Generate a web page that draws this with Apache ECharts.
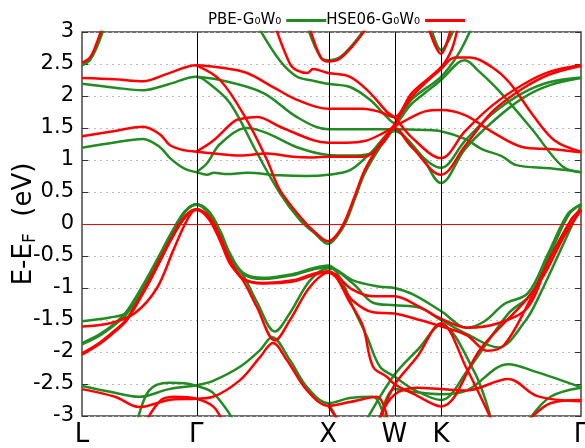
<!DOCTYPE html>
<html>
<head>
<meta charset="utf-8">
<script src="https://cdn.jsdelivr.net/npm/echarts@6/dist/echarts.min.js"></script>
<style>
html, body { margin: 0; padding: 0; background: #fff; }
#chart { width: 585px; height: 448px; }
</style>
</head>
<body>
<div id="chart"></div>
<script>
// high symmetry points along the k-path (2pi/a units)
const kPoints = [0, 0.866, 1.866, 2.366, 2.720, 3.781];
const kLabels = ['L', 'Γ', 'X', 'W', 'K', 'Γ'];

// PBE-G0W0 bands, [k, E-EF]
const pbeV1 = [[0,-1.86],[0.136,-1.72],[0.25,-1.55],[0.341,-1.36],[0.477,-0.9],[0.591,-0.47],[0.682,-0.12],[0.78,0.2],[0.866,0.31],[0.96,0.18],[1.05,-0.15],[1.121,-0.5],[1.22,-0.78],[1.371,-0.86],[1.599,-0.8],[1.75,-0.71],[1.866,-0.67],[2.053,-0.88],[2.258,-0.98],[2.366,-1.0],[2.508,-1.1],[2.72,-1.36],[2.917,-1.62],[3.05,-1.52],[3.2,-1.25],[3.379,-1.08],[3.53,-0.47],[3.682,0.16],[3.781,0.3]];
const pbeV2 = [[0,-1.88],[0.136,-1.74],[0.25,-1.57],[0.341,-1.4],[0.477,-0.95],[0.591,-0.5],[0.682,-0.14],[0.78,0.19],[0.866,0.3],[0.96,0.16],[1.05,-0.2],[1.121,-0.55],[1.22,-0.8],[1.326,-1.22],[1.462,-1.68],[1.576,-1.39],[1.728,-0.88],[1.866,-0.69],[2.053,-0.93],[2.205,-1.23],[2.366,-1.27],[2.561,-1.31],[2.72,-1.5],[2.917,-1.72],[3.152,-1.93],[3.357,-1.52],[3.47,-1.1],[3.65,-0.3],[3.781,0.29]];
const pbeV3 = [[0,-1.52],[0.212,-1.46],[0.326,-1.4],[0.439,-1.15],[0.591,-0.58],[0.743,0.08],[0.866,0.31],[0.96,0.2],[1.05,-0.12],[1.121,-0.46],[1.22,-0.76],[1.371,-0.84],[1.599,-0.78],[1.75,-0.69],[1.866,-0.65],[1.97,-0.9],[2.053,-1.3],[2.159,-1.76],[2.258,-2.23],[2.366,-2.38],[2.508,-2.58],[2.72,-2.75],[2.917,-2.3],[3.23,-1.4],[3.4,-1.1],[3.55,-0.45],[3.69,0.15],[3.781,0.31]];
const pbeV4 = [[0,-2.53],[0.212,-2.62],[0.432,-2.7],[0.66,-2.58],[0.866,-2.52],[0.993,-2.45],[1.197,-2.23],[1.349,-1.97],[1.44,-1.77],[1.576,-2.13],[1.705,-2.55],[1.866,-2.8],[2.031,-2.72],[2.205,-2.7],[2.3,-3.1]];
const pbeV5 = [[0.417,-3.1],[0.509,-2.6],[0.66,-2.48],[0.78,-2.49],[0.866,-2.53],[0.993,-2.64],[1.159,-3.1]];
const pbeV6 = [[2.159,-3.05],[2.366,-2.36],[2.55,-1.95],[2.72,-1.58],[2.97,-2.3],[3.1,-3.05]];
const pbeV7 = [[2.258,-3.05],[2.366,-2.58],[2.5,-2.62],[2.72,-2.66],[2.917,-2.6],[3.23,-2.19],[3.44,-2.31],[3.781,-2.55]];
const pbeV8 = [[3.39,-3.05],[3.55,-2.7],[3.781,-2.56]];
const pbeV9 = [[1.866,-2.8],[1.95,-3.1]];
const pbeC1 = [[0,1.19],[0.212,1.26],[0.462,1.33],[0.591,1.2],[0.667,1.03],[0.78,0.86],[0.866,0.81],[0.947,0.77],[1.0,0.8],[1.1,0.78],[1.25,0.8],[1.5,0.76],[1.7,0.75],[1.866,0.77],[2.031,0.84],[2.182,1.1],[2.366,1.45],[2.56,1.1],[2.72,0.64],[2.902,1.17],[3.107,1.59],[3.342,1.97],[3.546,2.17],[3.781,2.28]];
const pbeC2 = [[0,2.19],[0.25,2.13],[0.462,2.09],[0.65,2.18],[0.866,2.3],[0.96,2.2],[1.121,1.89],[1.326,1.11],[1.5,0.48],[1.652,0.06],[1.765,-0.15],[1.866,-0.31],[1.93,-0.2],[1.993,0.0],[2.069,0.4],[2.144,0.8],[2.258,1.2],[2.366,1.5],[2.485,1.85],[2.6,2.05],[2.72,2.25],[2.85,2.52],[2.902,2.56],[3.0,2.4],[3.16,2.08],[3.41,1.48],[3.64,0.9],[3.781,0.81]];
const pbeC3 = [[0.866,0.81],[0.947,0.95],[1.046,1.25],[1.25,1.5],[1.402,1.42],[1.629,1.2],[1.866,1.08],[2.031,1.07],[2.182,1.1],[2.311,1.35],[2.366,1.5],[2.5,1.2],[2.72,0.88],[2.902,1.3],[3.107,1.72],[3.342,2.05],[3.546,2.22],[3.781,2.29]];
const pbeC4 = [[0.866,2.3],[1.046,2.25],[1.371,2.05],[1.629,1.67],[1.866,1.48],[2.1,1.48],[2.366,1.48],[2.6,1.47],[2.72,1.45],[2.902,1.33],[3.03,1.17],[3.18,1.06],[3.29,0.92],[3.546,0.87],[3.781,0.81]];
const pbeC5 = [[1.33,3.1],[1.5,2.55],[1.63,2.3],[1.75,2.24],[1.866,2.19],[2.031,2.14],[2.182,1.94],[2.311,1.67],[2.366,1.58],[2.5,1.95],[2.72,2.3],[2.85,2.65],[2.96,3.1]];
const pbeC6 = [[1.705,3.1],[1.803,2.62],[1.866,2.56],[1.95,2.6],[2.05,2.8],[2.16,3.1]];
const pbeC7 = [[2.64,3.1],[2.72,2.72],[2.83,3.1]];
const pbeC8 = [[0,2.48],[0.06,2.56],[0.114,2.77],[0.16,3.02],[0.18,3.15]];

// HSE06-G0W0 bands
const hseV1 = [[0,-2.02],[0.136,-1.85],[0.25,-1.66],[0.341,-1.48],[0.477,-1.0],[0.591,-0.55],[0.682,-0.2],[0.78,0.12],[0.866,0.23],[0.96,0.1],[1.05,-0.25],[1.121,-0.58],[1.22,-0.86],[1.371,-0.93],[1.599,-0.9],[1.75,-0.8],[1.866,-0.75],[2.053,-1.03],[2.205,-1.13],[2.366,-1.13],[2.561,-1.3],[2.72,-1.48],[2.917,-1.62],[3.152,-1.55],[3.379,-1.3],[3.531,-0.6],[3.7,0.05],[3.781,0.23]];
const hseV2 = [[0,-2.04],[0.136,-1.87],[0.25,-1.68],[0.341,-1.5],[0.477,-1.03],[0.591,-0.58],[0.682,-0.22],[0.78,0.1],[0.866,0.22],[0.96,0.08],[1.05,-0.28],[1.121,-0.62],[1.22,-0.88],[1.326,-1.3],[1.462,-1.82],[1.576,-1.5],[1.728,-0.98],[1.866,-0.76],[2.053,-1.2],[2.205,-1.38],[2.366,-1.4],[2.561,-1.5],[2.72,-1.6],[2.917,-1.74],[3.069,-1.98],[3.198,-1.89],[3.379,-1.25],[3.58,-0.4],[3.781,0.22]];
const hseV3 = [[0,-1.6],[0.212,-1.55],[0.402,-1.39],[0.568,-1.0],[0.69,-0.42],[0.796,0.06],[0.866,0.23],[0.96,0.12],[1.05,-0.22],[1.121,-0.56],[1.22,-0.85],[1.371,-0.92],[1.599,-0.88],[1.75,-0.78],[1.866,-0.74],[2.031,-1.23],[2.129,-1.6],[2.205,-2.23],[2.311,-2.39],[2.366,-2.5],[2.508,-2.65],[2.72,-2.85],[3.023,-1.94],[3.364,-1.19],[3.5,-0.8],[3.65,-0.2],[3.781,0.22]];
const hseV4 = [[0,-2.58],[0.25,-2.7],[0.433,-2.86],[0.66,-2.75],[0.866,-2.73],[0.993,-2.7],[1.197,-2.44],[1.349,-2.08],[1.447,-1.86],[1.553,-2.13],[1.705,-2.6],[1.866,-2.84],[2.031,-2.78],[2.235,-2.7],[2.32,-3.1]];
const hseV5 = [[0.48,-3.1],[0.6,-2.75],[0.705,-2.7],[0.866,-2.73],[0.993,-2.85],[1.07,-3.1]];
const hseV6 = [[2.258,-3.05],[2.366,-2.52],[2.538,-2.08],[2.72,-1.55],[2.917,-2.27],[3.1,-3.05]];
const hseV7 = [[2.25,-3.05],[2.366,-2.67],[2.538,-2.56],[2.72,-2.58],[2.917,-2.6],[3.23,-2.42],[3.45,-2.69],[3.781,-2.77]];
const hseV8 = [[3.37,-3.1],[3.55,-2.8],[3.781,-2.75]];
const hseV9 = [[1.866,-2.84],[1.95,-3.1]];
const hseC1 = [[0,1.37],[0.212,1.44],[0.462,1.52],[0.591,1.4],[0.667,1.23],[0.78,1.15],[0.866,1.13],[1.0,1.1],[1.2,1.07],[1.4,1.1],[1.6,1.05],[1.75,1.04],[1.866,1.05],[2.129,1.05],[2.281,1.27],[2.366,1.5],[2.5,1.2],[2.72,0.77],[2.902,1.22],[3.107,1.75],[3.342,2.12],[3.546,2.34],[3.781,2.47]];
const hseC2 = [[0.866,1.13],[0.993,1.3],[1.121,1.55],[1.174,1.63],[1.326,1.67],[1.5,1.52],[1.75,1.31],[1.866,1.27],[2.0,1.27],[2.15,1.3],[2.28,1.42],[2.366,1.52],[2.5,1.67],[2.6,1.76],[2.72,1.78],[2.902,1.7],[3.107,1.44],[3.342,1.2],[3.546,1.17],[3.781,1.12]];
const hseC3 = [[0,2.28],[0.25,2.26],[0.462,2.23],[0.65,2.35],[0.866,2.48],[1.061,2.44],[1.25,2.36],[1.447,2.14],[1.629,1.94],[1.866,1.8],[2.129,1.8],[2.258,1.75],[2.366,1.67],[2.5,2.05],[2.72,2.45],[2.8,2.72],[2.85,3.1]];
const hseC4 = [[0.866,2.48],[1.046,2.25],[1.25,1.62],[1.402,1.0],[1.5,0.53],[1.675,0.06],[1.765,-0.13],[1.866,-0.27],[1.93,-0.17],[1.993,0.05],[2.069,0.45],[2.144,0.85],[2.258,1.25],[2.366,1.55],[2.485,1.95],[2.6,2.2],[2.72,2.42],[2.826,2.6],[2.94,2.6],[3.107,2.45],[3.243,2.2],[3.417,1.7],[3.584,1.3],[3.781,1.13]];
const hseC5 = [[1.462,3.1],[1.576,2.5],[1.629,2.4],[1.705,2.36],[1.75,2.42],[1.8,2.4],[1.866,2.36],[2.031,2.3],[2.182,2.05],[2.311,1.75],[2.366,1.67],[2.5,1.35],[2.72,1.03],[2.902,1.45],[3.107,1.85],[3.342,2.18],[3.546,2.38],[3.781,2.48]];
const hseC6 = [[1.72,3.1],[1.81,2.6],[1.866,2.54],[1.95,2.58],[2.05,2.78],[2.17,3.1]];
const hseC7 = [[2.62,3.1],[2.72,2.66],[2.8,3.1]];
const hseC8 = [[0,2.52],[0.06,2.6],[0.11,2.82],[0.15,3.05],[0.17,3.15]];

const pbeBands = [pbeV1, pbeV2, pbeV3, pbeV4, pbeV5, pbeV6, pbeV7, pbeV8, pbeV9,
  pbeC1, pbeC2, pbeC3, pbeC4, pbeC5, pbeC6, pbeC7, pbeC8];
const hseBands = [hseV1, hseV2, hseV3, hseV4, hseV5, hseV6, hseV7, hseV8, hseV9,
  hseC1, hseC2, hseC3, hseC4, hseC5, hseC6, hseC7, hseC8];

const pbeName = 'PBE-G₀W₀';
const hseName = 'HSE06-G₀W₀';
const green = '#228b22';
const red = '#ff0000';

function band(name, color, pts) {
  return {
    name: name,
    type: 'line',
    data: pts,
    smooth: 0.35,
    symbol: 'none',
    showSymbol: false,
    clip: true,
    silent: true,
    z: 3,
    itemStyle: { color: color },
    lineStyle: { color: color, width: 2.5 }
  };
}

let series = [];
// guide lines: vertical lines at the symmetry points and the Fermi level
series.push({
  type: 'line',
  data: [],
  z: 1,
  silent: true,
  markLine: {
    symbol: 'none',
    silent: true,
    animation: false,
    label: { show: false },
    data: kPoints.slice(1, 5).map(k => ({ xAxis: k, lineStyle: { color: '#000', width: 1, type: 'solid' } }))
      .concat([{ yAxis: 0, lineStyle: { color: red, width: 1, type: 'solid' } }])
  }
});
pbeBands.forEach(b => series.push(band(pbeName, green, b)));
hseBands.forEach(b => series.push(band(hseName, red, b)));

let chart = echarts.init(document.getElementById('chart'));
chart.setOption({
  animation: false,
  backgroundColor: '#fff',
  textStyle: { fontFamily: 'DejaVu Sans' },
  legend: {
    data: [pbeName, hseName],
    left: 203,
    top: 8,
    align: 'right',
    icon: 'rect',
    itemWidth: 40,
    itemHeight: 3,
    itemGap: 0,
    textStyle: { fontSize: 15, color: '#000', fontFamily: 'DejaVu Sans' }
  },
  // y axis title, rotated
  graphic: [{
    type: 'text',
    x: 24,
    y: 224,
    rotation: Math.PI / 2,
    silent: true,
    style: {
      text: 'E-E{f|F}  (eV)',
      fontSize: 26,
      fontFamily: 'DejaVu Sans',
      fill: '#000',
      align: 'center',
      verticalAlign: 'middle',
      rich: { f: { fontSize: 17, padding: [14, 0, 0, 0], fill: '#000', fontFamily: 'DejaVu Sans' } }
    }
  }],
  grid: {
    left: 82, right: 4, top: 32, bottom: 32,
    containLabel: false,
    outerBoundsMode: 'none',
    show: true, borderColor: '#444', borderWidth: 1.5
  },
  xAxis: {
    type: 'value',
    min: 0,
    max: 3.781,
    axisLine: { show: false },
    axisTick: { show: false },
    splitLine: { show: false },
    axisLabel: {
      customValues: kPoints,
      margin: 6,
      fontSize: 26,
      color: '#000',
      formatter: function (v) {
        let i = kPoints.findIndex(k => Math.abs(k - v) < 1e-3);
        return i >= 0 ? kLabels[i] : '';
      }
    }
  },
  yAxis: [{
    type: 'value',
    min: -3,
    max: 3,
    interval: 0.5,
    axisLine: { show: false },
    axisTick: { show: true, inside: true, length: 6, lineStyle: { color: '#333' } },
    axisLabel: { fontSize: 21, color: '#000', margin: 8 },
    splitLine: { show: true, lineStyle: { color: '#bbb', type: [2, 4], width: 1 } }
  }, {
    type: 'value',
    min: -3,
    max: 3,
    interval: 0.5,
    position: 'right',
    axisLine: { show: false },
    axisTick: { show: true, inside: true, length: 6, lineStyle: { color: '#333' } },
    axisLabel: { show: false },
    splitLine: { show: false }
  }],
  series: series
});
</script>
</body>
</html>
